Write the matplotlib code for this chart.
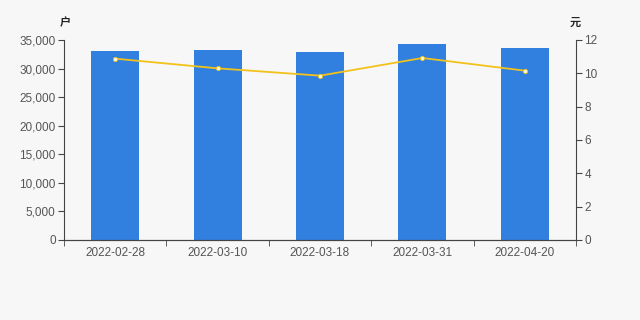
import matplotlib
matplotlib.use("Agg")
import matplotlib.pyplot as plt
import numpy as np

plt.rcParams['font.family'] = ['Liberation Sans', 'Noto Sans CJK SC', 'DejaVu Sans']

dates = ['2022-02-28', '2022-03-10', '2022-03-18', '2022-03-31', '2022-04-20']
holders = [33080, 33250, 32960, 34300, 33650]   # 户
price = [10.88, 10.30, 9.86, 10.92, 10.16]      # 元

bg = '#f7f7f7'
text_c = '#555555'
fig = plt.figure(figsize=(6.4, 3.2), dpi=100, facecolor=bg)
ax = fig.add_axes([0.1, 0.25, 0.8, 0.625], facecolor=bg)

x = np.arange(len(dates))
ax.bar(x, holders, width=0.47, color='#3180e0', zorder=2)
ax.set_xlim(-0.5, len(dates) - 0.5)
ax.set_ylim(0, 35000)
ax.set_yticks(range(0, 35001, 5000))
ax.set_yticklabels(['{:,}'.format(v) for v in range(0, 35001, 5000)])
ax.set_xticks(x)
ax.set_xticklabels(dates)
ax.set_xticks(np.arange(-0.5, len(dates)), minor=True)
ax.tick_params(axis='x', which='major', length=0, pad=5, labelsize=8.5, labelcolor=text_c)
ax.tick_params(axis='x', which='minor', length=4, color='#444444')
ax.tick_params(axis='y', length=4, labelsize=8.5, labelcolor=text_c, color='#444444', pad=2)

ax2 = ax.twinx()
ax2.plot(x, price, color='#f2c21b', lw=1.3, marker='o', ms=3,
         mfc='#f7f7e0', mec='#f2c21b', mew=0.6, zorder=3)
ax2.set_ylim(0, 12)
ax2.set_yticks(range(0, 13, 2))
ax2.tick_params(axis='y', length=4, labelsize=8.5, labelcolor=text_c, color='#444444', pad=2)

for a in (ax, ax2):
    a.spines['top'].set_visible(False)
    for s in ('left', 'right', 'bottom'):
        a.spines[s].set_color('#444444')
        a.spines[s].set_linewidth(0.8)
ax.spines['right'].set_visible(False)
ax2.spines['left'].set_visible(False)

fig.text(0.094, 0.93, '户', fontsize=8, color='#222222', ha='left', va='center',
         family=['Noto Sans CJK SC'], fontweight='bold')
fig.text(0.89, 0.93, '元', fontsize=8, color='#222222', ha='left', va='center',
         family=['Noto Sans CJK SC'], fontweight='bold')

fig.savefig('out.png', dpi=100, facecolor=bg)
